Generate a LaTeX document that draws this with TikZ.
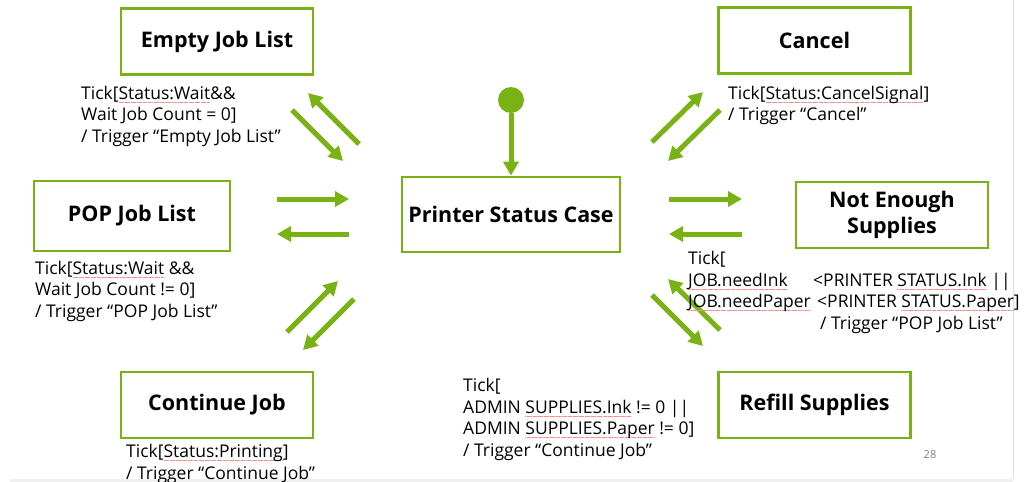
\documentclass[tikz,border=0pt]{standalone}
\usepackage{fontspec}
\setmainfont{Open Sans}
\usetikzlibrary{arrows.meta}

\definecolor{stgreen}{RGB}{120,178,20}
% red spell-check underline
\newsavebox\spellbox
\newcommand\spell[1]{\sbox\spellbox{#1}\rlap{\textcolor{red!45}{\hbox to\wd\spellbox{\xleaders\hbox{\rule[-0.35ex]{0.7pt}{0.5pt}\kern0.5pt}\hfil}}}\usebox\spellbox}

\tikzset{
  state/.style={draw=stgreen,line width=2.7pt,minimum width=192pt,minimum height=66pt,
    align=center,font=\fontsize{21.5}{26}\selectfont\bfseries},
  cond/.style={inner sep=0pt,anchor=north west,align=left,font=\fontsize{17.5}{21.5}\selectfont},
  flow/.style={stgreen,line width=5pt,-{Triangle[length=14pt,width=15pt]}},
}

\begin{document}
\begin{tikzpicture}[x=1pt,y=-1pt]
  \useasboundingbox (0,0) rectangle (1026,482);
  % slide edge
  \fill[gray!12] (10,479) rectangle (1013,482);
  \draw[gray!25,line width=1pt] (1013,0) -- (1013,479);

  % states
  \node[state] (psc) at (511,214.5) [minimum width=218pt,minimum height=75pt] {Printer Status Case};
  \node[state] (empty) at (217,41.5) {Empty Job List};
  \node[state] (pop) at (132,216) [minimum width=196pt,minimum height=70pt] {POP Job List};
  \node[state] (cont) at (217,405) {Continue Job};
  \node[state] (cancel) at (814.5,40.5) {Cancel};
  \node[state] (nes) at (892,215) {Not Enough\\Supplies};
  \node[state] (refill) at (814.5,405) {Refill Supplies};

  % initial state
  \node[circle,fill=stgreen,inner sep=0pt,minimum size=26pt] (init) at (511,100) {};
  \draw[flow] (init) -- (psc.north);

  % transitions
  \foreach \n/\a/\b in {ea/{359,144}/{308,93}, eb/{292,110}/{343,161},
                        pa/{277,199}/{349,199}, pb/{349,234}/{277,234},
                        ca/{287,332}/{338,281}, cb/{354,299}/{303,350},
                        xa/{652,142}/{703,92}, xb/{720,110}/{668,161},
                        na/{669,199}/{742,199}, nb/{742,234}/{669,234},
                        ra/{720,330}/{668,279}, rb/{652,295}/{703,346}}{
    \coordinate (\n-from) at (\a);
    \coordinate (\n-to) at (\b);
    \draw[flow] (\n-from) -- (\n-to);
  }

  % conditions
  \node[cond] (emptycond) at (81,86) {Tick[\spell{Status:Wait}\&\&\\Wait Job Count = 0]\\/ Trigger “Empty Job List”};
  \node[cond] (popcond) at (35,261) {Tick[\spell{Status:Wait} \&\&\\Wait Job Count != 0]\\/ Trigger “POP Job List”};
  \node[cond] (contcond) at (126,444) {Tick[\spell{Status:Printing}]\\/ Trigger “Continue Job”};
  \node[cond] (cancelcond) at (728,86) {Tick[\spell{Status:CancelSignal}]\\/ Trigger “Cancel”};
  \node[cond] (refillcond) at (463,378) {Tick[\\ADMIN \spell{SUPPLIES.Ink} != 0 ||\\ADMIN \spell{SUPPLIES.Paper} != 0]\\/ Trigger “Continue Job”};
  \node[cond] (nescond) at (688,251) {Tick[\\\makebox[125pt][l]{\spell{JOB.needInk}}<PRINTER \spell{STATUS.Ink} ||\\
    \makebox[129pt][l]{\spell{JOB.needPaper}}<PRINTER \spell{STATUS.Paper}]\\\hspace*{132pt}/ Trigger “POP Job List”};

  \node[text=gray,font=\fontsize{11}{13}\selectfont,anchor=base] (page) at (930,458) {28};
\end{tikzpicture}
\end{document}
